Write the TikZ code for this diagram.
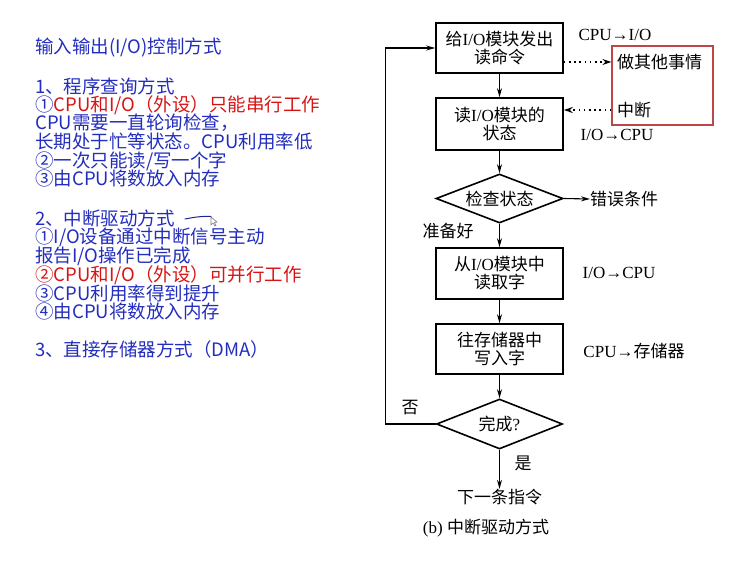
\documentclass[tikz,border=0pt]{standalone}
\usepackage{fontspec}
\setmainfont{Liberation Serif}
\newfontfamily\cj{Noto Sans CJK SC}
\usetikzlibrary{shapes.geometric,arrows.meta}
\definecolor{txtblue}{RGB}{35,45,190}
\definecolor{txtred}{RGB}{215,20,20}
\definecolor{boxred}{RGB}{190,70,70}
\begin{document}
\begin{tikzpicture}[x=1pt,y=-1pt,
  lefttxt/.style={anchor=west,inner sep=0,text height=0.88em,text depth=0.12em,
    font=\cj\fontsize{18.5}{18.5}\selectfont,text=txtblue},
  fbox/.style={draw,line width=1.6pt,minimum width=127pt,inner sep=0,align=center,
    font=\fontsize{17}{18}\selectfont},
  fdia/.style={draw,diamond,line width=1.6pt,inner sep=0,minimum width=127pt,minimum height=49pt},
  ftxt/.style={inner sep=0,align=center,font=\fontsize{17}{18}\selectfont},
  arr/.style={line width=1.1pt,-{Stealth[length=9pt,width=5pt]}},
  dotarr/.style={line width=1.7pt,dash pattern=on 1.6pt off 3.6pt,-{Stealth[length=9pt,width=6pt]}}
]
\useasboundingbox (0,0) rectangle (743,578);

% ---------- left text ----------
\node[lefttxt] (t1) at (35,50) {输入输出(I/O)控制方式};
\node[lefttxt] (t2) at (35,90) {1、程序查询方式};
\node[lefttxt] (t3) at (35,107.5) {①\textcolor{txtred}{CPU和I/O（外设）只能串行工作}};
\node[lefttxt] (t4) at (35,126) {CPU需要一直轮询检查，};
\node[lefttxt] (t5) at (35,145) {长期处于忙等状态。CPU利用率低};
\node[lefttxt] (t6) at (35,163.5) {②一次只能读/写一个字};
\node[lefttxt] (t7) at (35,182) {③由CPU将数放入内存};
\node[lefttxt] (t8) at (35,222) {2、中断驱动方式};
\node[lefttxt] (t9) at (35,240) {①I/O设备通过中断信号主动};
\node[lefttxt] (t10) at (35,258.5) {报告I/O操作已完成};
\node[lefttxt,text=txtred] (t11) at (35,277.5) {②CPU和I/O（外设）可并行工作};
\node[lefttxt] (t12) at (35,296.5) {③CPU利用率得到提升};
\node[lefttxt] (t13) at (35,315) {④由CPU将数放入内存};
\node[lefttxt] (t14) at (35,353) {3、直接存储器方式（DMA）};
% pen stroke and pointer
\draw[txtblue!80!black,line width=1pt,line cap=round] (185,219) .. controls (195,217) and (203,216) .. (211,216.5);
\draw[gray,line width=0.6pt,fill=white] (211,217) -- (211,225) -- (213,223) -- (215,226) -- (216,225.5) -- (214.5,222.5) -- (217,222) -- cycle;

% ---------- flowchart ----------
\node[fbox,minimum height=50pt] (b1) at (499.5,48) {{\cj 给}I/O{\cj 模块发出}\\{\cj 读命令}};
\node[fbox,minimum height=52pt] (b2) at (499.5,124) {{\cj 读}I/O{\cj 模块的}\\{\cj 状态}};
\node[fdia] (d1) at (499.5,198.5) {};
\node[ftxt] (d1t) at (d1) {\cj 检查状态};
\node[fbox,minimum height=51pt] (b3) at (499.5,273.5) {{\cj 从}I/O{\cj 模块中}\\{\cj 读取字}};
\node[fbox,minimum height=50pt] (b4) at (499.5,349) {{\cj 往存储器中}\\{\cj 写入字}};
\node[fdia,minimum width=126pt,minimum height=50pt] (d2) at (499.5,424) {};
\node[ftxt] (d2t) at (d2) {{\cj 完成}?};

\node[draw=boxred,line width=1.3pt,minimum width=101pt,minimum height=79pt,inner sep=0] (rb) at (662.5,85.5) {};
\node[ftxt,anchor=west] (oth) at (617,62) {\cj 做其他事情};
\node[ftxt,anchor=west] (intr) at (617,110) {\cj 中断};

\node[ftxt] (l1) at (615,35) {CPU→I/O};
\node[ftxt] (l2) at (617,135) {I/O→CPU};
\node[ftxt,anchor=west] (err) at (590,199) {\cj 错误条件};
\node[ftxt] (rdy) at (448,231) {\cj 准备好};
\node[ftxt] (l3) at (619,273) {I/O→CPU};
\node[ftxt] (l4) at (634,351) {CPU→{\cj 存储器}};
\node[ftxt] (no) at (410,408) {\cj 否};
\node[ftxt] (yes) at (523,463) {\cj 是};
\node[ftxt] (nxt) at (499.5,497) {\cj 下一条指令};
\node[ftxt] (cap) at (486,528) {(b) {\cj 中断驱动方式}};

\draw[arr] (b1) -- (b2);
\draw[arr] (b2) -- (d1);
\draw[arr] (d1) -- (b3);
\draw[arr] (b3) -- (b4);
\draw[arr] (b4) -- (d2);
\draw[arr] (d2.south) -- (nxt.north);
\draw[arr] (d1.east) -- (err.west);
\draw[arr] (d2.west) -- ++(-50,0) |- (b1.west);
\draw[dotarr] (b1.east |- oth) -- (rb.west |- oth);
\draw[dotarr] (rb.west |- intr) -- (b2.east |- intr);
\end{tikzpicture}
\end{document}
